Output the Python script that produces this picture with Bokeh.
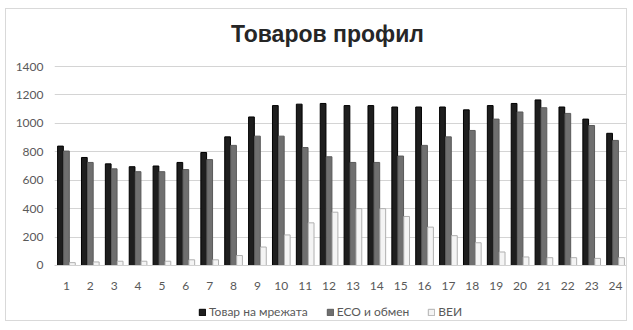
from bokeh.plotting import figure
from bokeh.models import ColumnDataSource, FactorRange, Legend, LegendItem, Label
from bokeh.transform import dodge
from bokeh.embed import file_html
from bokeh.resources import INLINE

# Hourly profile (24 hours)
hours = [str(h) for h in range(1, 25)]
grid_load = [840, 760, 715, 695, 700, 725, 795, 905, 1045, 1125, 1135, 1140,
             1125, 1125, 1115, 1115, 1115, 1095, 1125, 1140, 1165, 1115, 1030, 930]
eso_exchange = [805, 725, 680, 660, 660, 675, 745, 845, 910, 910, 830, 765,
                725, 725, 770, 845, 905, 950, 1030, 1080, 1110, 1070, 985, 880]
renewables = [20, 25, 30, 30, 30, 40, 40, 70, 130, 215, 300, 375,
              400, 400, 345, 270, 210, 160, 95, 60, 55, 55, 50, 55]

series_names = ["Товар на мрежата", "ЕСО и обмен", "ВЕИ"]
y_ticks = [0, 200, 400, 600, 800, 1000, 1200, 1400]

source = ColumnDataSource(dict(hour=hours, grid=grid_load,
                               eso=eso_exchange, res=renewables))

# The frame spans from the title row down to the legend row; the value
# axis runs 0..1400, the room around it holds title, hour labels and legend.
p = figure(width=622, height=313, x_range=FactorRange(*hours),
           y_range=(-387, 1787), output_backend="svg", toolbar_location=None,
           min_border_left=48, min_border_right=1, min_border_top=2,
           min_border_bottom=2,
           styles={"margin-left": "5px", "margin-top": "8px",
                   "border": "1px solid #d9d9d9"})
p.x_range.range_padding = 0
p.background_fill_color = "white"
p.border_fill_color = "white"
p.outline_line_color = None

bar_w = 0.24
r1 = p.vbar(x=dodge("hour", -0.25, range=p.x_range), top="grid", width=bar_w,
            source=source, fill_color="#1e1e1e", line_color="#000000", line_width=1)
r2 = p.vbar(x=dodge("hour", 0.0, range=p.x_range), top="eso", width=bar_w,
            source=source, fill_color="#6f6f6f", line_color="#5a5a5a", line_width=1)
r3 = p.vbar(x=dodge("hour", 0.25, range=p.x_range), top="res", width=bar_w,
            source=source, fill_color="#f4f4f4", line_color="#b0b0b0", line_width=1)

# Axes and grid
p.yaxis.ticker = y_ticks
p.yaxis.axis_line_color = None
p.yaxis.major_tick_line_color = None
p.yaxis.minor_tick_line_color = None
p.yaxis.major_label_text_font = "Lato"
p.yaxis.major_label_text_font_size = "12px"
p.yaxis.major_label_text_color = "#595959"
p.yaxis.major_label_standoff = 5

p.xaxis.fixed_location = 0
p.xaxis.axis_line_color = "#d0d0d0"
p.xaxis.major_tick_line_color = None
p.xaxis.minor_tick_line_color = None
p.xaxis.major_label_text_font = "Lato"
p.xaxis.major_label_text_font_size = "12px"
p.xaxis.major_label_text_color = "#595959"
p.xaxis.major_label_standoff = 11

p.xgrid.grid_line_color = None
p.ygrid.grid_line_color = "#d4d4d4"
p.ygrid.grid_line_width = 1

# Title
p.add_layout(Label(x=273, y=287, x_units="screen", y_units="screen",
                   text="Товаров профил", text_align="center",
                   text_baseline="middle", text_font="Liberation Sans",
                   text_font_style="bold", text_font_size="23px",
                   text_color="#262626"))

legend = Legend(items=[LegendItem(label=series_names[0], renderers=[r1]),
                       LegendItem(label=series_names[1], renderers=[r2]),
                       LegendItem(label=series_names[2], renderers=[r3])],
                orientation="horizontal", location=(144, 1),
                label_text_font="Lato", label_text_font_size="12px",
                label_text_color="#595959", glyph_width=8, glyph_height=8,
                label_standoff=3, spacing=18, padding=0, margin=0,
                border_line_color=None, background_fill_alpha=0)
p.add_layout(legend, "center")

open("out.html", "w").write(file_html(p, INLINE))
